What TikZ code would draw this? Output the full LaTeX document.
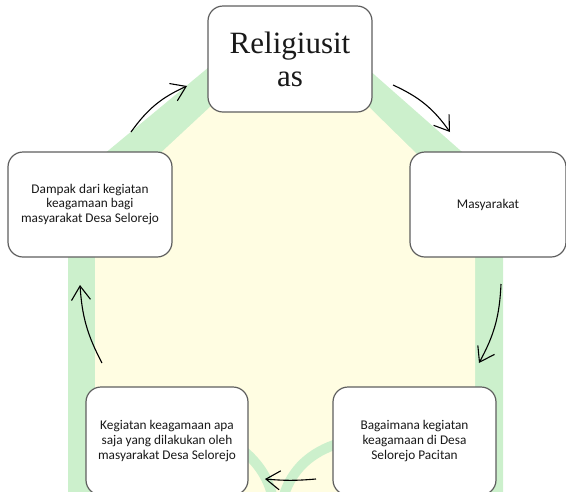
\documentclass[tikz,border=0pt]{standalone}
\usepackage{fontspec}
\setmainfont{Carlito}
\newfontfamily\timesfont{Liberation Serif}
\usetikzlibrary{arrows.meta}
\definecolor{wmgreen}{HTML}{CCF0CC}
\definecolor{wmyellow}{HTML}{FFFDE2}
\definecolor{boxline}{HTML}{5F5F5F}
\tikzset{
  box/.style={draw=boxline, line width=1.2pt, rounded corners=15pt, fill=white,
    minimum width=164pt, minimum height=105pt, inner sep=2pt, align=center,
    font=\fontsize{13.3}{14.6}\selectfont, text=black!90},
  cyc/.style={line width=1.1pt, -{Straight Barb[length=14pt,width=19pt,line width=1.1pt]}},
}
\begin{document}
\begin{tikzpicture}[x=1pt,y=-1pt]
\useasboundingbox (0,0) rectangle (566,491);
\begin{scope}
\clip (0,0) rectangle (566,491);
% watermark
\fill[wmgreen] (68,495) -- (68,184) -- (209,67) .. controls (250,33) and (330,33) .. (377,77) -- (503,188) -- (503,495) -- cycle;
\fill[wmyellow] (95,495) -- (95,214) -- (210,107) .. controls (250,60) and (330,60) .. (370,108) -- (475,211) -- (475,495) -- cycle;
\draw[wmgreen, line width=10pt] (240,448) .. controls (258,462) and (268,478) .. (272,495);
\draw[wmgreen, line width=10pt] (284,495) .. controls (292,470) and (310,452) .. (340,443);
% nodes
\node[box, minimum height=106pt, font=\timesfont\fontsize{31}{33}\selectfont] (rel) at (290,59) {Religiusit\\as};
\node[box, minimum width=156pt] (mas) at (488,204.5) {Masyarakat};
\node[box, minimum width=163pt, minimum height=108pt] (bag) at (414.5,441) {Bagaimana kegiatan\\keagamaan di Desa\\Selorejo Pacitan};
\node[box, minimum width=162pt, minimum height=108pt] (keg) at (167,441) {Kegiatan keagamaan apa\\saja yang dilakukan oleh\\masyarakat Desa Selorejo};
\node[box] (dam) at (90,204.5) {Dampak dari kegiatan\\keagamaan bagi\\masyarakat Desa Selorejo};
\end{scope}
% arrow end points
\coordinate (a1s) at (393,85);  \coordinate (a1e) at (450,132);
\coordinate (a2s) at (501,284); \coordinate (a2e) at (479,363);
\coordinate (a3s) at (316,479); \coordinate (a3e) at (265,479);
\coordinate (a4s) at (102,363); \coordinate (a4e) at (80,285);
\coordinate (a5s) at (131,132); \coordinate (a5e) at (187,86);
\draw[cyc] (a1s) to[bend left=15] (a1e);
\draw[cyc] (a2s) to[bend left=13] (a2e);
\draw[cyc] (a3s) to[bend left=5] (a3e);
\draw[cyc] (a4s) to[bend left=12] (a4e);
\draw[cyc] (a5s) to[bend left=15] (a5e);
\end{tikzpicture}
\end{document}
